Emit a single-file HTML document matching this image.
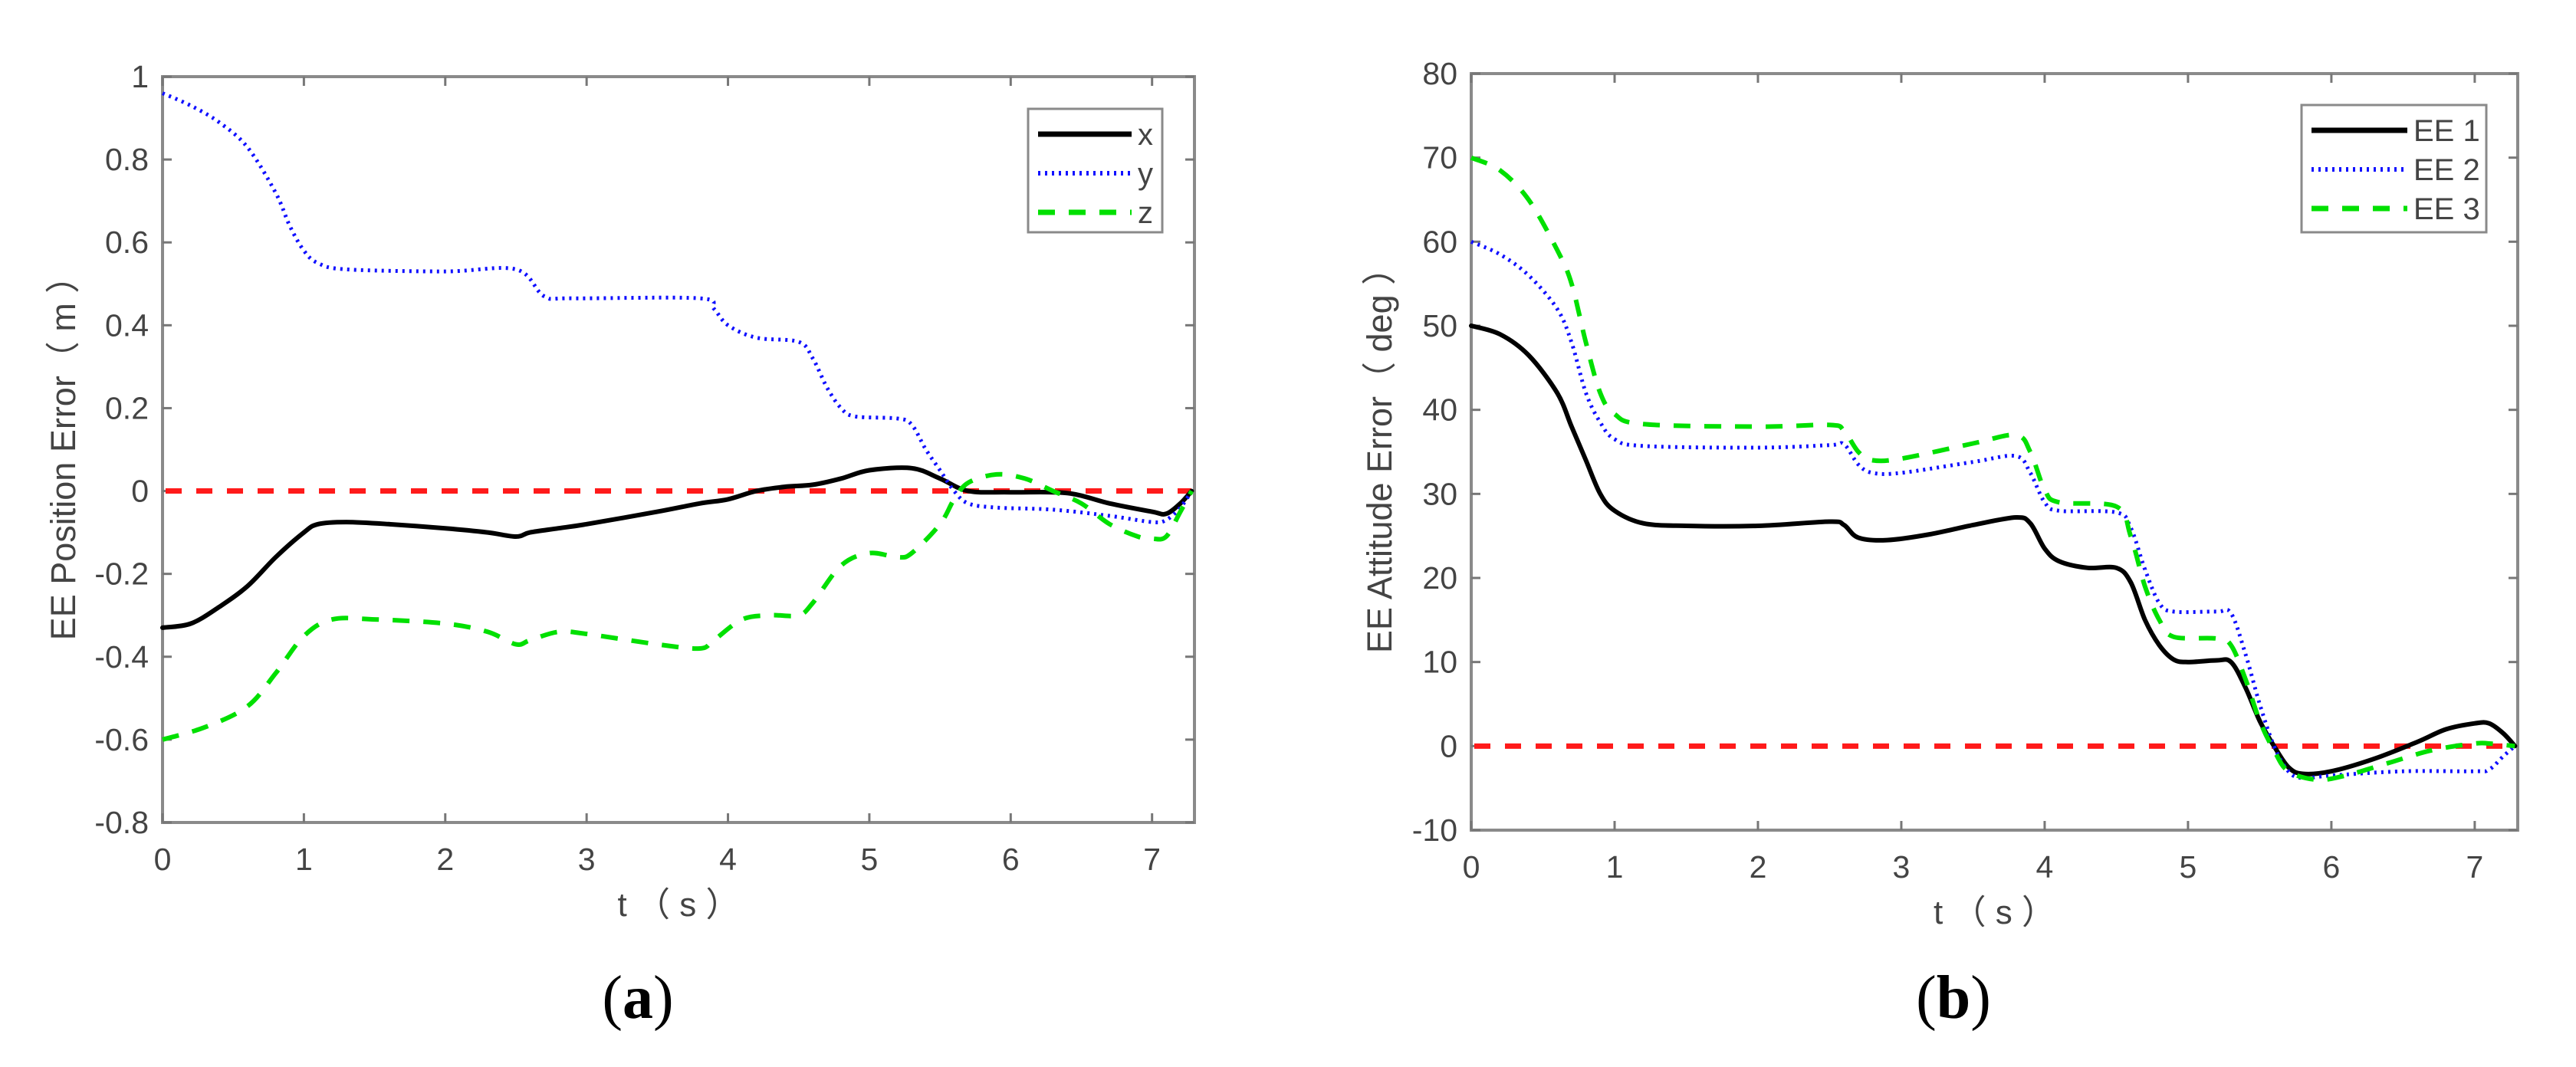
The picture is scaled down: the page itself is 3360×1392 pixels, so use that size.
<!DOCTYPE html>
<html><head><meta charset="utf-8"><style>
html,body{margin:0;padding:0;background:#fff;}
svg{display:block;}
text{font-family:"Liberation Sans","Noto Sans CJK SC",sans-serif;fill:#444;}
.cap{font-family:"Liberation Serif",serif;fill:#000;}
</style></head><body>
<svg id="fig" width="3360" height="1392" viewBox="0 0 3360 1392" xmlns="http://www.w3.org/2000/svg"></svg>
<script>
// ---- Chart (a) data ----
const tA_x=[0,0.2,0.4,0.6,0.8,1.0,1.1,1.3,1.6,2.0,2.3,2.5,2.6,2.8,3.0,3.5,3.8,4.0,4.2,4.4,4.6,4.8,5.0,5.3,5.5,5.7,6.0,6.4,6.7,7.0,7.1,7.2,7.28];
const vA_x=[-0.33,-0.32,-0.28,-0.23,-0.16,-0.10,-0.08,-0.075,-0.08,-0.09,-0.10,-0.11,-0.10,-0.09,-0.08,-0.05,-0.03,-0.02,0.0,0.01,0.015,0.03,0.05,0.055,0.03,0.0,-0.003,-0.005,-0.03,-0.05,-0.055,-0.03,0];
const tA_y=[0,0.2,0.4,0.6,0.8,0.9,1.0,1.1,1.3,2.0,2.5,2.7,2.9,3.8,3.9,4.0,4.2,4.5,4.6,4.7,4.8,4.9,5.2,5.3,5.4,5.5,5.6,5.7,5.9,6.3,6.7,7.0,7.1,7.2,7.28];
const vA_y=[0.96,0.93,0.89,0.83,0.72,0.64,0.58,0.55,0.535,0.53,0.535,0.47,0.465,0.465,0.44,0.40,0.37,0.36,0.32,0.25,0.20,0.18,0.175,0.16,0.10,0.05,0.0,-0.03,-0.04,-0.045,-0.06,-0.075,-0.07,-0.04,0];
const tA_z=[0,0.3,0.6,0.8,1.0,1.2,1.5,2.0,2.3,2.5,2.6,2.8,3.0,3.5,3.8,3.9,4.1,4.3,4.5,4.6,4.8,5.0,5.2,5.3,5.5,5.6,5.7,5.9,6.1,6.3,6.5,6.7,6.9,7.0,7.1,7.2,7.28];
const vA_z=[-0.60,-0.57,-0.52,-0.44,-0.35,-0.31,-0.31,-0.32,-0.34,-0.37,-0.36,-0.34,-0.345,-0.37,-0.38,-0.36,-0.31,-0.30,-0.30,-0.27,-0.18,-0.15,-0.16,-0.15,-0.08,-0.02,0.02,0.04,0.03,0.0,-0.03,-0.08,-0.11,-0.115,-0.11,-0.05,0];
const ticksA_y=[1,0.8,0.6,0.4,0.2,0,-0.2,-0.4,-0.6,-0.8];
const tickLabelsA_y=["1","0.8","0.6","0.4","0.2","0","-0.2","-0.4","-0.6","-0.8"];
const ticksX=[0,1,2,3,4,5,6,7];
const legendA=["x","y","z"];
// ---- Chart (b) data ----
const tB_1=[0,0.2,0.4,0.6,0.7,0.8,0.9,1.0,1.2,1.5,2.0,2.5,2.6,2.7,2.9,3.2,3.5,3.8,3.9,4.0,4.1,4.3,4.5,4.6,4.7,4.8,4.9,5.0,5.2,5.3,5.4,5.5,5.6,5.7,5.8,6.0,6.3,6.6,6.8,7.0,7.1,7.2,7.28];
const vB_1=[50,49,46.5,42,38,34,30,28,26.5,26.2,26.2,26.7,26.3,24.8,24.5,25.2,26.3,27.2,26.5,23.5,22,21.2,21.2,19.5,15,12,10.3,10,10.2,10,7,3,0,-2.5,-3.3,-3,-1.5,0.5,2,2.7,2.7,1.5,0];
const tB_2=[0,0.2,0.4,0.6,0.7,0.8,0.9,1.0,1.2,2.0,2.5,2.6,2.7,2.8,3.0,3.5,3.8,3.9,4.0,4.1,4.5,4.6,4.7,4.8,4.9,5.2,5.3,5.4,5.5,5.6,5.7,5.8,6.0,6.5,7.0,7.1,7.2,7.28];
const vB_2=[60,58.5,56,52,48,42,38.5,36.5,35.7,35.5,35.8,35.9,33.5,32.5,32.5,33.8,34.5,32.5,29,28,27.8,26,21,17,16,16,15.8,11,5,0,-3,-3.8,-3.5,-3,-3,-2.8,-1.2,0];
const tB_3=[0,0.2,0.4,0.6,0.7,0.8,0.9,1.0,1.2,2.0,2.5,2.6,2.7,2.8,3.0,3.5,3.8,3.9,4.0,4.1,4.5,4.6,4.7,4.8,4.9,5.2,5.3,5.4,5.5,5.6,5.7,5.9,6.1,6.4,6.7,7.0,7.1,7.28];
const vB_3=[70,68.5,65,59,55,48,42,39.5,38.3,38,38.2,37.5,35,34,34.2,36,37,35,30.5,29,28.5,25,19,15,13,12.8,12,8,3,-0.5,-3,-4,-3.5,-2,-0.5,0.3,0.3,0];
const ticksB_y=[80,70,60,50,40,30,20,10,0,-10];
const tickLabelsB_y=["80","70","60","50","40","30","20","10","0","-10"];
const legendB=["EE 1","EE 2","EE 3"];

const NS="http://www.w3.org/2000/svg";
const svg=document.getElementById('fig');
function mk(tag,attrs,parent){const e=document.createElementNS(NS,tag);for(const k in attrs)e.setAttribute(k,attrs[k]);(parent||svg).appendChild(e);return e;}
const styles=[
 {stroke:"#000",sw:6,dash:null,cap:"round"},
 {stroke:"#1010ff",sw:5,dash:"3 6",cap:"butt"},
 {stroke:"#00e000",sw:6,dash:"22 18",cap:"butt"}
];
function smoothPath(P){
  let d="M"+P[0][0].toFixed(1)+","+P[0][1].toFixed(1);
  for(let i=0;i<P.length-1;i++){
    const p0=P[Math.max(0,i-1)],p1=P[i],p2=P[i+1],p3=P[Math.min(P.length-1,i+2)];
    const c1=[p1[0]+(p2[0]-p0[0])/6,p1[1]+(p2[1]-p0[1])/6];
    const c2=[p2[0]-(p3[0]-p1[0])/6,p2[1]-(p3[1]-p1[1])/6];
    d+=" C"+c1[0].toFixed(1)+","+c1[1].toFixed(1)+" "+c2[0].toFixed(1)+","+c2[1].toFixed(1)+" "+p2[0].toFixed(1)+","+p2[1].toFixed(1);
  }
  return d;
}
function drawChart(cfg){
  const g=mk('g',{});
  
  
  const xs=t=>cfg.L+(t-0)/(cfg.xmax)*(cfg.R-cfg.L);
  const ys=v=>cfg.T+(cfg.ymax-v)/(cfg.ymax-cfg.ymin)*(cfg.B-cfg.T);
  const fr=mk('rect',{x:cfg.L,y:cfg.T,width:cfg.R-cfg.L,height:cfg.B-cfg.T,fill:"#fff",stroke:"#8a8a8a","stroke-width":4},g);
  
  
  ticksX.forEach(t=>{
    const x=xs(t);
    mk('line',{x1:x,y1:cfg.B,x2:x,y2:cfg.B-12,stroke:"#777","stroke-width":3},g);
    mk('line',{x1:x,y1:cfg.T,x2:x,y2:cfg.T+12,stroke:"#777","stroke-width":3},g);
    const tx=mk('text',{x:x,y:cfg.B+62,"font-size":41,"text-anchor":"middle"},g);
    tx.textContent=String(t);
    
    
  });
  cfg.yt.forEach((v,i)=>{
    const y=ys(v);
    mk('line',{x1:cfg.L,y1:y,x2:cfg.L+12,y2:y,stroke:"#777","stroke-width":3},g);
    mk('line',{x1:cfg.R,y1:y,x2:cfg.R-12,y2:y,stroke:"#777","stroke-width":3},g);
    const tx=mk('text',{x:cfg.L-18,y:y+14,"font-size":41,"text-anchor":"end"},g);
    tx.textContent=cfg.ytl[i];
    
    
  });
  const z=mk('line',{x1:cfg.L+4,y1:ys(0),x2:cfg.R-4,y2:ys(0),stroke:"#ff1a1a","stroke-width":7,"stroke-dasharray":"21 19"},g);
  
  
  cfg.series.forEach((s,i)=>{
    const st=styles[i];
    const P=s.t.map((t,j)=>[xs(t),ys(s.v[j])]);
    const p=mk('path',{d:smoothPath(P),fill:"none",stroke:st.stroke,"stroke-width":st.sw,"stroke-linejoin":"round","stroke-linecap":st.cap},g);
    if(st.dash)p.setAttribute('stroke-dasharray',st.dash);
    
    
  });
  const lg=mk('g',{},g);
  
  
  mk('rect',{x:cfg.lg.x,y:cfg.lg.y,width:cfg.lg.w,height:cfg.lg.h,fill:"#fff",stroke:"#8a8a8a","stroke-width":3},lg);
  cfg.legend.forEach((lab,i)=>{
    const st=styles[i];const y=cfg.lg.y+33+i*51;
    const ln=mk('line',{x1:cfg.lg.x+13,y1:y,x2:cfg.lg.x+cfg.lg.lw,y2:y,stroke:st.stroke,"stroke-width":st.sw+1},lg);
    if(st.dash)ln.setAttribute('stroke-dasharray',st.dash);
    const tx=mk('text',{x:cfg.lg.x+cfg.lg.lw+8,y:y+14,"font-size":40},lg);
    tx.textContent=lab;
    
    
  });
  const xl=mk('text',{x:(cfg.L+cfg.R)/2,y:cfg.B+122,"font-size":44,"text-anchor":"middle","xml:space":"preserve"},g);
  xl.textContent="t （ s ）";
  
  
  const cy=(cfg.T+cfg.B)/2;
  const yl=mk('text',{x:cfg.ylx,y:cy,"font-size":45,"text-anchor":"middle",transform:`rotate(-90 ${cfg.ylx} ${cy})`},g);
  yl.textContent=cfg.ylabel;
  
  
  const cp=mk('text',{x:cfg.capx,y:1328,"font-size":80,"text-anchor":"middle",class:"cap"},g);
  cp.innerHTML='(<tspan font-weight="bold">'+cfg.cap+'</tspan>)';
  
  
}
drawChart({name:"chart-position-error",L:212,R:1558,T:100,B:1073,xmax:7.3,ymax:1,ymin:-0.8,yt:ticksA_y,ytl:tickLabelsA_y,
  series:[{name:"x",t:tA_x,v:vA_x},{name:"y",t:tA_y,v:vA_y},{name:"z",t:tA_z,v:vA_z}],
  legend:legendA,lg:{x:1341,y:142,w:175,h:161,lw:135},ylx:98,ylabel:"EE Position Error（ m ）",capx:832,cap:"a"});
drawChart({name:"chart-attitude-error",L:1919,R:3284,T:96,B:1083,xmax:7.3,ymax:80,ymin:-10,yt:ticksB_y,ytl:tickLabelsB_y,
  series:[{name:"EE1",t:tB_1,v:vB_1},{name:"EE2",t:tB_2,v:vB_2},{name:"EE3",t:tB_3,v:vB_3}],
  legend:legendB,lg:{x:3002,y:137,w:241,h:166,lw:138},ylx:1815,ylabel:"EE Attitude Error（ deg ）",capx:2548,cap:"b"});
</script>
</body></html>
